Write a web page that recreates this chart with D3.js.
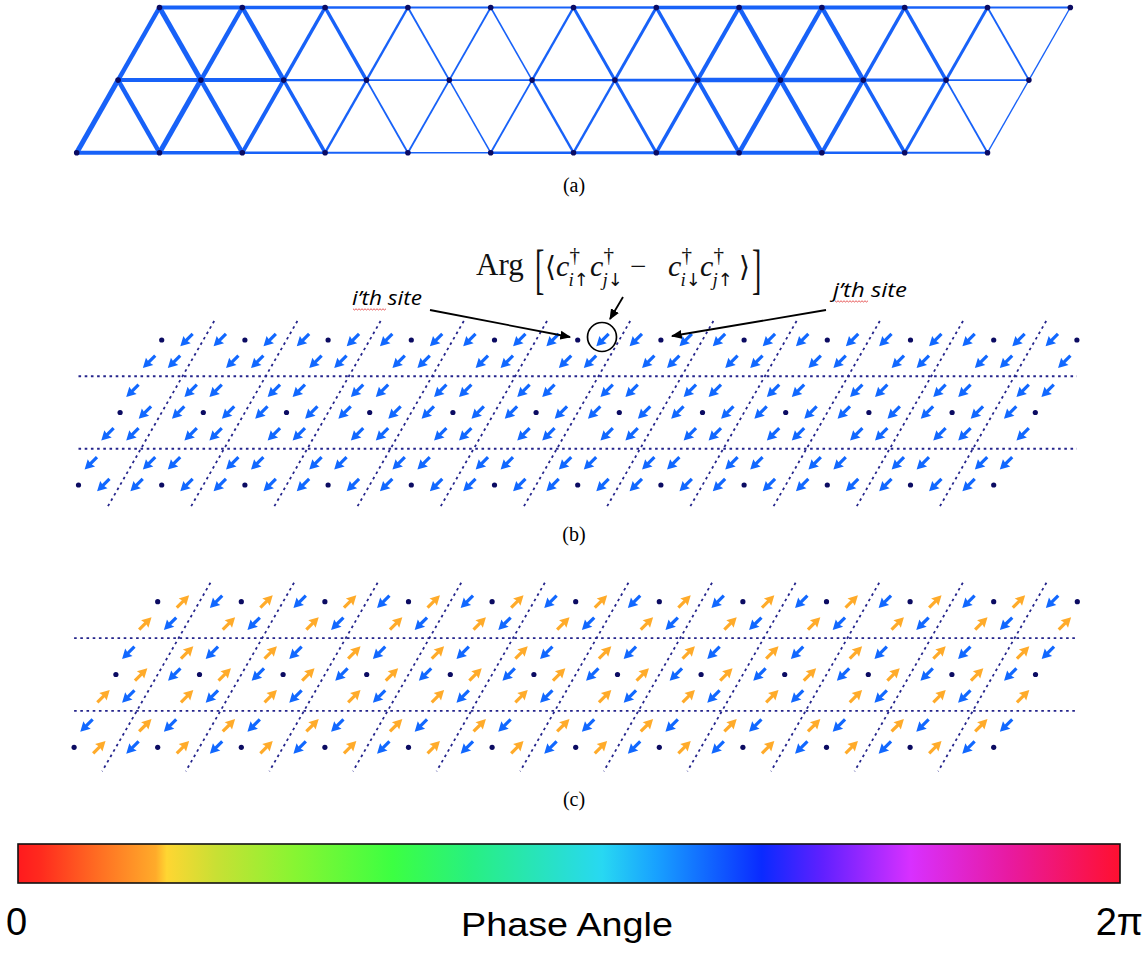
<!DOCTYPE html>
<html>
<head>
<meta charset="utf-8">
<script src="https://cdn.jsdelivr.net/npm/d3@7"></script>
<style>
    body { margin: 0; background: #fff; }
    svg { display: block; }
</style>
</head>
<body>
<div id="chart"></div>
<script>
/**
 * constant variables
 */
const WIDTH = 1148;
const HEIGHT = 957;
const COLS = 12;
const ROWS = 3;

const BOND_COLOR = "#1862f8";
const SITE_COLOR = "#0b0b62";
const DASH_COLOR = "#25258c";

/**
 * panel (a): bond amplitudes (0..1), rows counted from the top
 */
const hTop    = [0.78, 0.67, 0.44, 0.40, 0.40, 0.44, 0.67, 0.78, 0.78, 0.44, 0.40];
const hMiddle = [0.78, 0.78, 0.44, 0.27, 0.27, 0.44, 0.56, 0.89, 0.89, 0.67, 0.27];
const hBottom = [0.78, 0.67, 0.44, 0.33, 0.27, 0.44, 0.56, 0.78, 0.78, 0.44, 0.33];
// middle c -> top c (up-right) and middle c -> top c-1 (up-left)
const upRightHigh = [0.89, 0.89, 0.67, 0.44, 0.33, 0.44, 0.56, 0.78, 0.89, 0.67, 0.56, 0.22];
const upLeftHigh  = [1.00, 0.89, 0.67, 0.33, 0.27, 0.56, 0.67, 0.89, 0.89, 0.67, 0.33];
// bottom c -> middle c (up-right) and bottom c -> middle c-1 (up-left)
const upRightLow  = [1.00, 1.00, 0.78, 0.44, 0.33, 0.33, 0.44, 0.67, 0.89, 0.78, 0.56, 0.22];
const upLeftLow   = [0.89, 0.89, 0.67, 0.33, 0.27, 0.44, 0.56, 0.78, 0.89, 0.67, 0.33];

/**
 * panels (b) and (c): pairing phase (degrees) seen from a site, per bond direction
 */
const DIRECTIONS = ["E", "NE", "NW", "W", "SW", "SE"];
const DIR_STEP = {E: [0, 1], NE: [-1, 0], NW: [-1, -1], W: [0, -1], SW: [1, 0], SE: [1, 1]};
const phaseB = [225, 225, 225, 225, 225, 225];
const phaseC = [45, 225, 45, 225, 45, 225];

/**
 * colour bar
 */
const barStops  = [0, 0.02, 0.07, 0.125, 0.135, 0.18, 0.25, 0.34, 0.41, 0.53, 0.58, 0.675, 0.73, 0.81, 0.90, 1];
const barColors = ["#ff1a1e", "#ff2a1e", "#ff6a22", "#ffab2a", "#ffd632", "#c8e034", "#88f532", "#3cff42",
                   "#28f080", "#28d8f2", "#18a0ff", "#0a2aff", "#6020ff", "#d830ff", "#e81aa0", "#ff1030"];
const barTicks = ["0", "2π"];
const barTitle = "Phase Angle";

const PANELS = {
    a: {x0: 159.5, y0: 7.5, a: 82.8, h: 72.6},
    b: {x0: 161.7, y0: 340, a: 83.2, h: 72.5},
    c: {x0: 157.7, y0: 601.7, a: 83.6, h: 72.8}
};

const svg = d3.select("#chart").append("svg")
                                .attr("width", WIDTH)
                                .attr("height", HEIGHT)
                                .attr("font-family", "'Liberation Serif', 'DejaVu Serif', serif");

const phaseColor = d3.scaleLinear().domain(barStops).range(barColors);
const widthScale = d3.scaleLinear().domain([0, 1]).range([0.3, 5.0]);

function lattice(p) {
    const x = d3.scaleLinear().domain([0, COLS - 1]).range([p.x0, p.x0 + (COLS - 1) * p.a]);
    const y = d3.scaleLinear().domain([0, ROWS - 1]).range([p.y0, p.y0 + (ROWS - 1) * p.h]);
    return {px: (r, c) => x(c - r / 2), py: r => y(r)};
}

function sites() {
    const out = [];
    d3.range(ROWS).forEach(r => d3.range(COLS).forEach(c => out.push({r, c})));
    return out;
}

/**
 * panel (a)
 */
(function() {
    const L = lattice(PANELS.a);
    const bonds = [];
    [hTop, hMiddle, hBottom].forEach((row, r) =>
        row.forEach((w, c) => bonds.push({r1: r, c1: c, r2: r, c2: c + 1, w})));
    upRightHigh.forEach((w, c) => bonds.push({r1: 1, c1: c, r2: 0, c2: c, w}));
    upLeftHigh.forEach((w, i) => bonds.push({r1: 1, c1: i + 1, r2: 0, c2: i, w}));
    upRightLow.forEach((w, c) => bonds.push({r1: 2, c1: c, r2: 1, c2: c, w}));
    upLeftLow.forEach((w, i) => bonds.push({r1: 2, c1: i + 1, r2: 1, c2: i, w}));

    const g = svg.append("g").attr("class", "panelA");
    g.selectAll("line")
        .data(bonds)
        .enter()
        .append("line")
        .attr("x1", d => L.px(d.r1, d.c1))
        .attr("y1", d => L.py(d.r1))
        .attr("x2", d => L.px(d.r2, d.c2))
        .attr("y2", d => L.py(d.r2))
        .attr("stroke", BOND_COLOR)
        .attr("stroke-width", d => widthScale(d.w));

    g.selectAll("circle")
        .data(sites())
        .enter()
        .append("circle")
        .attr("cx", d => L.px(d.r, d.c))
        .attr("cy", d => L.py(d.r))
        .attr("r", 2.8)
        .attr("fill", SITE_COLOR);
})();

/**
 * panels (b) and (c): arrows at 0.3 along every bond, seen from each end
 */
const ARROW = "M-8.5,-1.6L0.3,-1.6L-0.6,-5.2L9,0L-0.6,5.2L0.3,1.6L-8.5,1.6Z";

function phasePanel(p, phases) {
    const L = lattice(p);
    const g = svg.append("g");

    // unit cell boundaries
    const dashed = [];
    [0.5, 1.5].forEach(r => dashed.push({x1: L.px(2, 0), y1: L.py(r), x2: L.px(0, COLS - 1), y2: L.py(r)}));
    const rTop = -19 / p.h, rBot = 2 + 24 / p.h;
    d3.range(COLS - 1).forEach(c => dashed.push({
        x1: L.px(rTop, c + 0.5), y1: L.py(rTop), x2: L.px(rBot, c + 0.5), y2: L.py(rBot)
    }));
    g.selectAll("line")
        .data(dashed)
        .enter()
        .append("line")
        .attr("x1", d => d.x1).attr("y1", d => d.y1)
        .attr("x2", d => d.x2).attr("y2", d => d.y2)
        .attr("stroke", DASH_COLOR)
        .attr("stroke-width", 1.8)
        .attr("stroke-dasharray", "2.6,3.6");

    const arrows = [];
    sites().forEach(s => DIRECTIONS.forEach((dir, k) => {
        const [dr, dc] = DIR_STEP[dir];
        const r2 = s.r + dr, c2 = s.c + dc;
        if (r2 < 0 || r2 >= ROWS || c2 < 0 || c2 >= COLS) return;
        const r = s.r + 0.3 * dr, c = s.c + 0.3 * dc;
        arrows.push({x: L.px(r, c), y: L.py(r), phase: phases[k]});
    }));
    g.selectAll("path")
        .data(arrows)
        .enter()
        .append("path")
        .attr("d", ARROW)
        .attr("transform", d => `translate(${d.x},${d.y}) rotate(${-d.phase})`)
        .attr("fill", d => phaseColor(d.phase / 360));

    g.selectAll("circle")
        .data(sites())
        .enter()
        .append("circle")
        .attr("cx", d => L.px(d.r, d.c))
        .attr("cy", d => L.py(d.r))
        .attr("r", 2.6)
        .attr("fill", SITE_COLOR);
}

phasePanel(PANELS.b, phaseB);
phasePanel(PANELS.c, phaseC);

/**
 * panel captions
 */
svg.selectAll("text.caption")
    .data([["(a)", 192], ["(b)", 541], ["(c)", 806]])
    .enter()
    .append("text")
    .attr("class", "caption")
    .attr("x", 574)
    .attr("y", d => d[1])
    .attr("text-anchor", "middle")
    .attr("font-size", 20)
    .text(d => d[0]);

/**
 * formula and annotations in panel (b)
 */
const defs = svg.append("defs");
defs.append("marker")
    .attr("id", "head")
    .attr("viewBox", "0 0 10 10")
    .attr("refX", 9).attr("refY", 5)
    .attr("markerWidth", 6).attr("markerHeight", 6)
    .attr("markerUnits", "strokeWidth")
    .attr("orient", "auto")
    .append("path")
    .attr("d", "M0,0.8L10,5L0,9.2Z")
    .attr("fill", "#000");

const f = svg.append("g").attr("fill", "#111");
f.append("text").attr("x", 476).attr("y", 275).attr("font-size", 31).text("Arg");
f.append("text").attr("transform", "translate(535,288) scale(1,1.95)").attr("font-size", 28).text("[");
f.append("text").attr("transform", "translate(752,288) scale(1,1.95)").attr("font-size", 28).text("]");
f.append("text").attr("x", 545).attr("y", 276).attr("font-size", 28).attr("font-family", "'DejaVu Serif', serif").text("⟨");
f.append("text").attr("x", 739).attr("y", 276).attr("font-size", 28).attr("font-family", "'DejaVu Serif', serif").text("⟩");
f.append("text").attr("x", 630).attr("y", 276).attr("font-size", 29).text("−");

const cOps = [
    {x: 556, sub: "i", spin: "↑"},
    {x: 590, sub: "j", spin: "↓"},
    {x: 668, sub: "i", spin: "↓"},
    {x: 700, sub: "j", spin: "↑"}
];
cOps.forEach(o => {
    f.append("text").attr("x", o.x).attr("y", 276).attr("font-size", 30)
        .attr("font-style", "italic").text("c");
    f.append("text").attr("x", o.x + 13.5).attr("y", 262).attr("font-size", 21).text("†");
    const t = f.append("text").attr("x", o.x + 12.5).attr("y", 286).attr("font-size", 19);
    t.append("tspan").attr("font-style", "italic").text(o.sub);
    t.append("tspan").attr("font-family", "'DejaVu Sans', sans-serif").attr("font-size", 18).text(o.spin);
});

const ann = svg.append("g");
ann.selectAll("line")
    .data([[430, 310, 570, 337], [826, 310, 672, 336], [623, 297, 610, 319]])
    .enter()
    .append("line")
    .attr("x1", d => d[0]).attr("y1", d => d[1])
    .attr("x2", d => d[2]).attr("y2", d => d[3])
    .attr("stroke", "#000")
    .attr("stroke-width", 1.8)
    .attr("marker-end", "url(#head)");

ann.append("circle")
    .attr("cx", 602).attr("cy", 337).attr("r", 14.5)
    .attr("fill", "none").attr("stroke", "#000").attr("stroke-width", 1.7);

ann.selectAll("text")
    .data([["i’th site", 352, 305, 70], ["j’th site", 833, 297, 74]])
    .enter()
    .append("text")
    .attr("x", d => d[1])
    .attr("y", d => d[2])
    .attr("font-family", "'Open Sans', 'Noto Sans', sans-serif")
    .attr("font-style", "italic")
    .attr("font-size", 20)
    .attr("textLength", d => d[3])
    .attr("lengthAdjust", "spacingAndGlyphs")
    .text(d => d[0]);

// spell-check squiggles under "i'th" and "j'th"
[[353, 387, 309], [835, 868, 301]].forEach(([x1, x2, y]) => {
    const pts = d3.range(x1, x2 + 0.1, 1.5).map((x, i) => [x, y + (i % 2 ? 1 : -0.2)]);
    ann.append("path")
        .attr("d", d3.line()(pts))
        .attr("fill", "none")
        .attr("stroke", "#e03030")
        .attr("stroke-width", 0.8);
});

/**
 * colour bar
 */
const grad = defs.append("linearGradient").attr("id", "phaseGrad");
grad.selectAll("stop")
    .data(barStops)
    .enter()
    .append("stop")
    .attr("offset", d => d)
    .attr("stop-color", (d, i) => barColors[i]);

const barX = d3.scaleLinear().domain([0, 1]).range([18, 1120]);
svg.append("rect")
    .attr("x", barX(0))
    .attr("y", 844)
    .attr("width", barX(1) - barX(0))
    .attr("height", 39)
    .attr("fill", "url(#phaseGrad)")
    .attr("stroke", "#111")
    .attr("stroke-width", 1.6);

svg.selectAll("text.tick")
    .data(barTicks)
    .enter()
    .append("text")
    .attr("class", "tick")
    .attr("x", (d, i) => i ? 1143 : 6)
    .attr("y", 935)
    .attr("text-anchor", (d, i) => i ? "end" : "start")
    .attr("font-family", "'Liberation Sans', Arial, sans-serif")
    .attr("font-size", 38)
    .text(d => d);

svg.append("text")
    .attr("x", 567)
    .attr("y", 936)
    .attr("text-anchor", "middle")
    .attr("font-family", "'Liberation Sans', Arial, sans-serif")
    .attr("font-size", 33)
    .attr("textLength", 212)
    .attr("lengthAdjust", "spacingAndGlyphs")
    .text(barTitle);
</script>
</body>
</html>
